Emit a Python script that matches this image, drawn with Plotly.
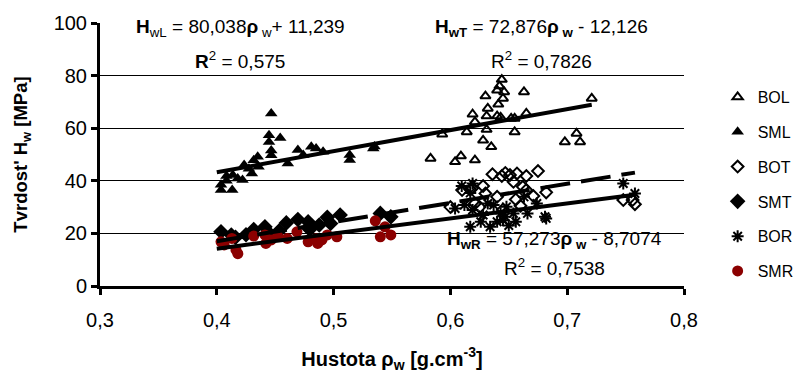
import plotly.graph_objects as go

# ---------------- data ----------------
bol_x = [0.644, 0.642, 0.630, 0.640, 0.646, 0.663, 0.645, 0.641, 0.632, 0.619, 0.631, 0.640, 0.643,
         0.652, 0.655, 0.665, 0.621, 0.593, 0.614, 0.631, 0.655, 0.628, 0.635, 0.583, 0.609, 0.604,
         0.621, 0.721, 0.698, 0.708, 0.711]
bol_y = [78.5, 76.0, 72.2, 74.4, 73.8, 73.8, 71.3, 69.1, 67.5, 65.3, 64.6, 64.6, 64.1,
         63.7, 63.7, 65.6, 62.4, 57.7, 58.6, 59.5, 58.6, 55.4, 52.9, 48.5, 49.4, 47.2,
         47.9, 71.3, 54.8, 58.0, 54.8]

sml_x = [0.4466, 0.4447, 0.4447, 0.4543, 0.4466, 0.435, 0.4316, 0.4357, 0.4234, 0.430, 0.4083,
         0.4137, 0.4179, 0.422, 0.4036, 0.4132, 0.4608, 0.4694, 0.474, 0.4809, 0.485, 0.491,
         0.5138, 0.5138, 0.534, 0.535, 0.4036, 0.4083, 0.4466, 0.4275]
sml_y = [65.6, 57.3, 54.8, 56.3, 49.7, 49.1, 47.8, 45.3, 46.0, 42.8, 41.8,
         42.2, 40.9, 40.3, 36.5, 36.5, 46.6, 51.7, 49.8, 52.9, 52.3, 51.0,
         49.8, 47.9, 52.3, 53.0, 38.5, 40.0, 51.5, 44.6]

bot_x = [0.636, 0.644, 0.647, 0.651, 0.657, 0.665, 0.675, 0.654, 0.628, 0.617, 0.619, 0.662,
         0.665, 0.671, 0.656, 0.621, 0.640, 0.610, 0.630, 0.682, 0.748, 0.758, 0.756, 0.625,
         0.645, 0.660, 0.600]
bot_y = [42.5, 41.8, 43.0, 42.2, 42.8, 41.8, 43.7, 39.6, 38.0, 36.7, 37.3, 37.7,
         36.5, 34.2, 32.9, 31.4, 33.9, 36.5, 35.2, 35.6, 32.7, 31.1, 32.7, 30.0,
         29.0, 30.5, 30.0]

smt_x = [0.4036, 0.4316, 0.4412, 0.4595, 0.4694, 0.4782, 0.4877, 0.4946, 0.5056, 0.4974, 0.4795,
         0.540, 0.549, 0.445, 0.4535, 0.4124, 0.416, 0.425]
smt_y = [20.6, 21.5, 22.5, 24.0, 25.3, 24.4, 23.2, 26.1, 27.0, 23.8, 21.5,
         27.6, 26.3, 20.0, 21.0, 19.4, 18.5, 19.5]

bor_x = [0.6097, 0.619, 0.617, 0.604, 0.612, 0.619, 0.617, 0.626, 0.634, 0.643, 0.647, 0.654,
         0.656, 0.666, 0.674, 0.681, 0.648, 0.663, 0.637, 0.632, 0.640, 0.748, 0.758, 0.682,
         0.645, 0.650, 0.628]
bor_y = [38.0, 39.0, 35.4, 29.5, 30.8, 28.9, 22.5, 24.4, 22.5, 27.6, 26.3, 27.6,
         24.4, 27.6, 31.4, 26.3, 30.1, 33.9, 30.8, 31.4, 24.4, 39.0, 35.2, 25.7,
         25.0, 23.0, 27.0]

smr_x = [0.4036, 0.4063, 0.4129, 0.4164, 0.4316, 0.4412, 0.442, 0.4466, 0.4521, 0.4603, 0.4686,
         0.4782, 0.4864, 0.4946, 0.5028, 0.5357, 0.544, 0.540, 0.549, 0.418, 0.485, 0.490]
smr_y = [16.8, 15.6, 18.1, 13.7, 19.0, 19.4, 16.2, 17.5, 19.0, 18.1, 20.6,
         16.8, 16.2, 19.4, 18.7, 24.8, 22.5, 18.7, 19.4, 12.3, 18.0, 17.5]

# trend lines: slope, intercept, x range
trend_L = (80.038, 11.239, [0.40, 0.721])
trend_T = (72.876, -12.126, [0.40, 0.758])
trend_R = (57.273, -8.7074, [0.40, 0.758])

x_ticks = [0.3, 0.4, 0.5, 0.6, 0.7, 0.8]
x_tick_labels = ["0,3", "0,4", "0,5", "0,6", "0,7", "0,8"]
y_ticks = [0, 20, 40, 60, 80, 100]

FONT = "Liberation Sans, Arial, sans-serif"

fig = go.Figure()

def add_pts(name, xs, ys, symbol, size, color="black", lw=0, lcolor="black"):
    fig.add_trace(go.Scatter(
        x=xs, y=ys, mode="markers", name=name, legendgroup=name,
        marker=dict(symbol=symbol, size=size, color=color,
                    line=dict(width=lw, color=lcolor)),
    ))

add_pts("BOL", bol_x, bol_y, "triangle-up-open", 9, lw=2)
add_pts("SML", sml_x, sml_y, "triangle-up", 11)
add_pts("BOT", bot_x, bot_y, "diamond-open", 9, lw=2)
add_pts("SMT", smt_x, smt_y, "diamond", 12)
add_pts("BOR", bor_x, bor_y, "asterisk-open", 10, lw=2)
add_pts("SMR", smr_x, smr_y, "circle", 11, color="#8B0000")

for (a, b, xr), dash in [(trend_L, "solid"), (trend_T, "30px,11px"), (trend_R, "solid")]:
    fig.add_trace(go.Scatter(
        x=xr, y=[a * v + b for v in xr], mode="lines", showlegend=False,
        line=dict(color="black", width=4, dash=dash), hoverinfo="skip",
    ))

ann_font = dict(family=FONT, size=19, color="black")
annotations = [
    dict(x=0.42, y=98, text="<b>H</b><sub>wL</sub> = 80,038<b>ρ</b><sub> w</sub>+ 11,239"),
    dict(x=0.42, y=86, text="<b>R</b><sup>2</sup> = 0,575"),
    dict(x=0.678, y=98, text="<b>H</b><sub><b>wT</b></sub> = 72,876<b>ρ</b><sub><b> w</b></sub> - 12,126"),
    dict(x=0.678, y=86, text="R<sup>2</sup> = 0,7826"),
    dict(x=0.689, y=17.5, text="<b>H</b><sub><b>wR</b></sub> = 57,273<b>ρ</b><sub><b> w</b></sub> - 8,7074"),
    dict(x=0.689, y=7.2, text="R<sup>2</sup> = 0,7538"),
]
for a in annotations:
    fig.add_annotation(xref="x", yref="y", showarrow=False, xanchor="center",
                       yanchor="middle", font=ann_font, **a)

axis_common = dict(
    showline=True, linewidth=3, linecolor="black", ticks="outside", ticklen=6,
    tickwidth=3, tickcolor="black", zeroline=False, mirror=False, automargin=False,
    tickfont=dict(family=FONT, size=20, color="black"),
)

fig.update_xaxes(range=[0.3, 0.8], tickvals=x_ticks, ticktext=x_tick_labels,
                 showgrid=False, ticklabelstandoff=8,
                 title=dict(text="<b>Hustota ρ<sub>w</sub> [g.cm<sup>-3</sup>]</b>",
                            font=dict(family=FONT, size=20, color="black"), standoff=22),
                 **axis_common)
fig.update_yaxes(range=[0, 100], tickvals=y_ticks, showgrid=True, gridcolor="black",
                 gridwidth=1,
                 title=dict(text="<b>Tvrdost' H<sub>w</sub> [MPa]</b>",
                            font=dict(family=FONT, size=18.5, color="black"), standoff=22),
                 **axis_common)

fig.update_layout(
    width=803, height=372,
    margin=dict(l=92, r=103, t=15, b=94),
    plot_bgcolor="white", paper_bgcolor="white",
    font=dict(family=FONT, color="black"),
    legend=dict(x=1.0576, y=0.783, xanchor="left", yanchor="top",
                font=dict(family=FONT, size=16, color="black"),
                tracegroupgap=11, itemwidth=30, bgcolor="rgba(0,0,0,0)"),
)

fig.write_html("out.html")
